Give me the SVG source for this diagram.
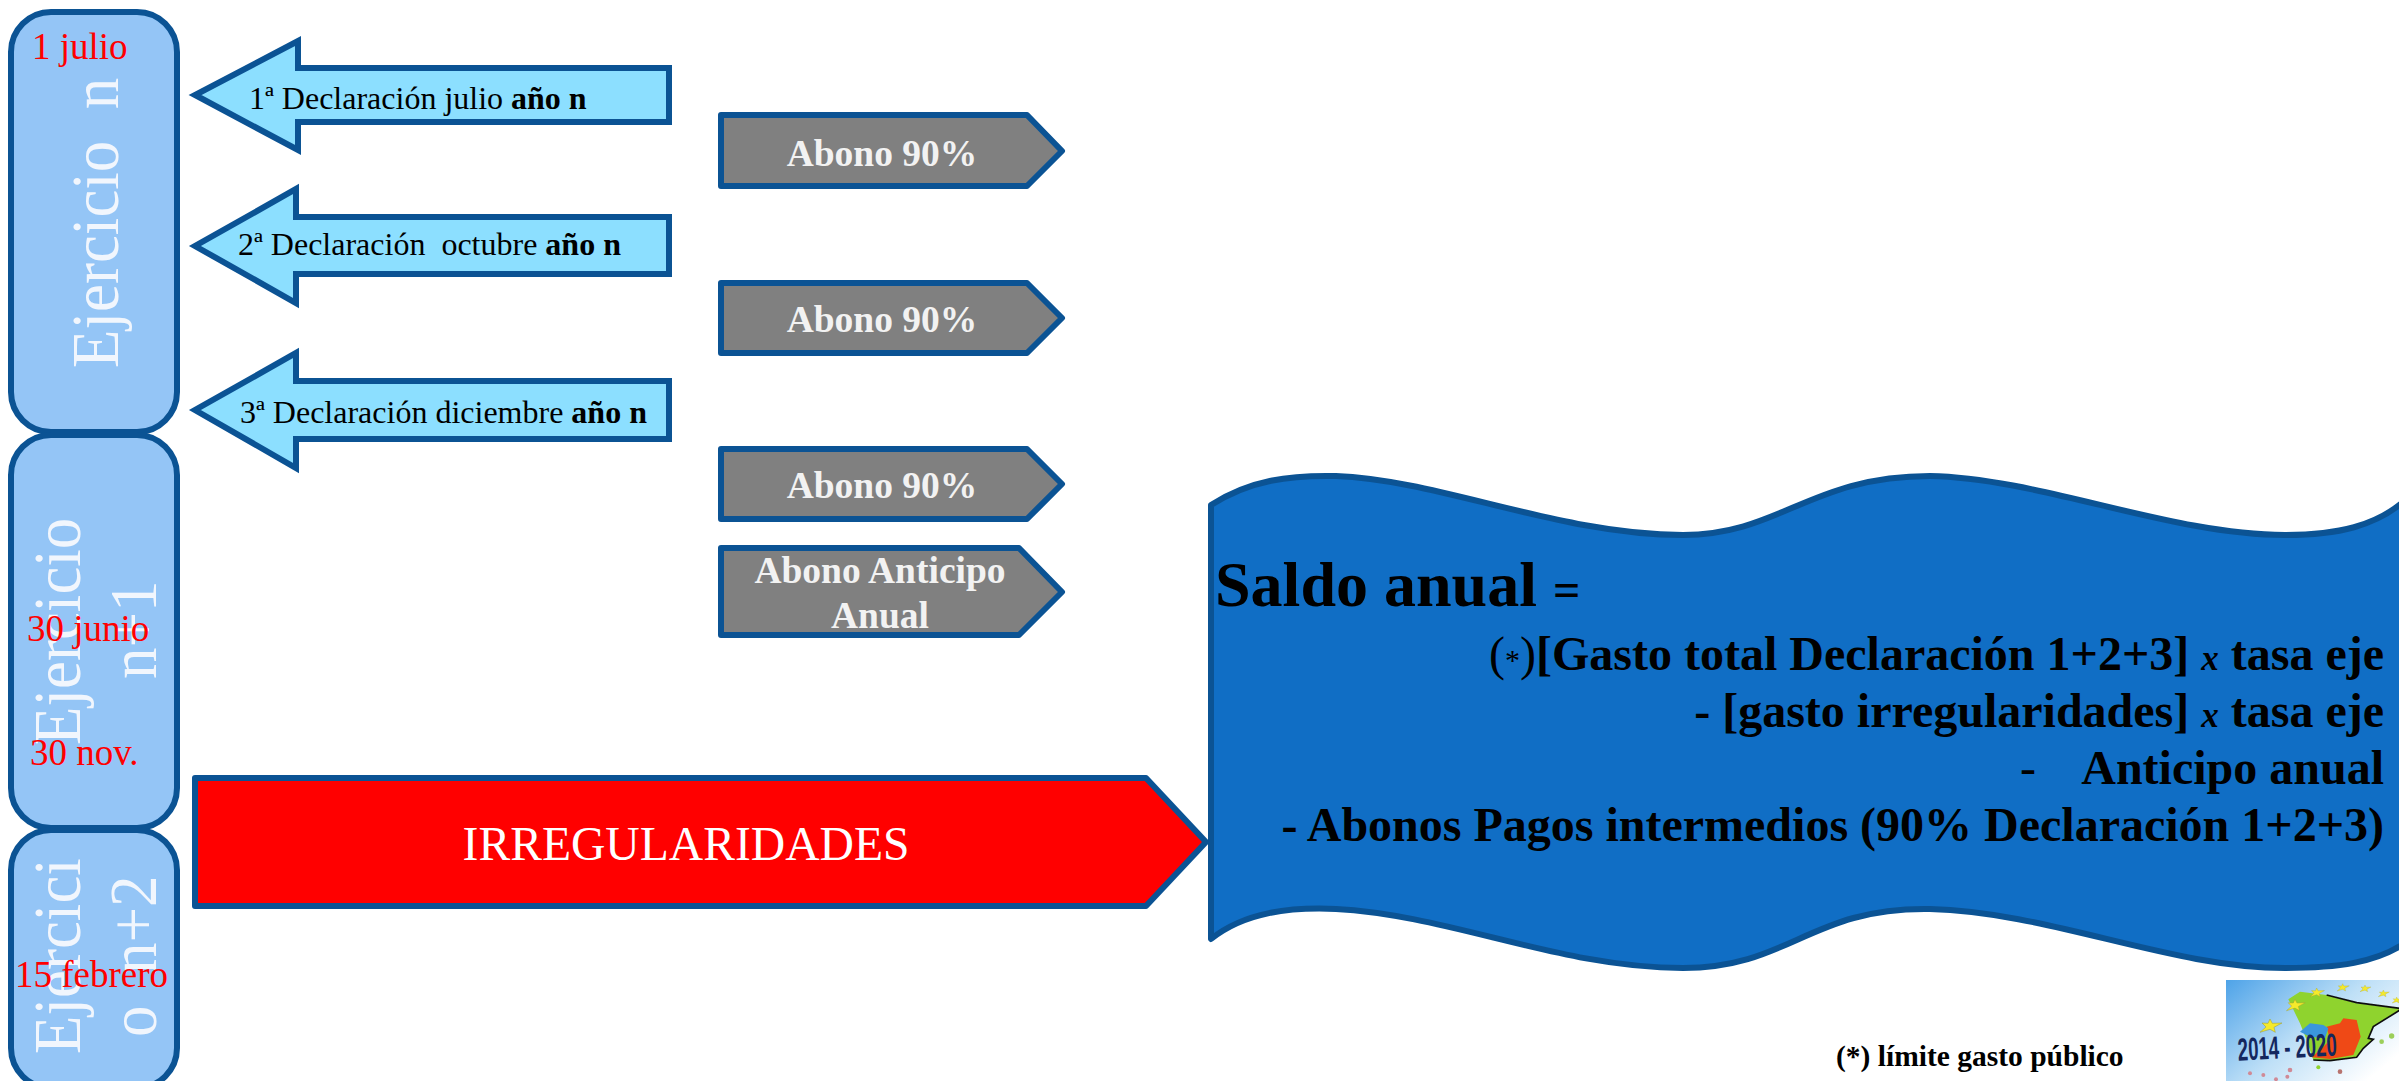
<svg xmlns="http://www.w3.org/2000/svg" width="2399" height="1081" viewBox="0 0 2399 1081">
<style>
text{font-family:"Liberation Serif","Times New Roman",serif}
.box{fill:#94c5f6;stroke:#0b5394;stroke-width:6}
.left{fill:#8cdfff;stroke:#0b5394;stroke-width:6;stroke-miterlimit:10}
.gray{fill:#808080;stroke:#0b5394;stroke-width:6;stroke-linejoin:round}
.vert{font-size:63px;fill:#f1f6fd}
.date{font-size:37px;fill:#f00}
.decl{font-size:32px;fill:#000}
.abono{font-size:37.5px;font-weight:bold;fill:#f2f2f2;text-anchor:middle}
.calc{font-size:48px;font-weight:bold;fill:#000;text-anchor:end}
.x{font-size:35px;font-style:italic}
</style>
<defs>
<linearGradient id="sky" x1="0" y1="0" x2="1" y2="0.7"><stop offset="0" stop-color="#4ea3e8"/><stop offset="0.55" stop-color="#bfe0f7"/><stop offset="1" stop-color="#fff"/></linearGradient>
<filter id="soft" x="-10%" y="-10%" width="120%" height="120%"><feGaussianBlur stdDeviation="1.5"/></filter>
<polygon id="star" points="0,-20 7,-7 36,-8 12,5 16,20 0,11 -30,20 -12,4 -24,-8 -6,-7" fill="#f5e92b" stroke="#9a9a30" stroke-width="1.5"/>
</defs>
<g id="connectors"/>
<g id="ejercicio-n">
<rect class="box" x="11" y="12" width="166" height="420" rx="40"/>
<text class="vert" transform="translate(118 368) rotate(-90) scale(1 1.07)" xml:space="preserve">Ejercicio  n</text>
<text class="date" x="32" y="59">1 julio</text>
</g>
<g id="ejercicio-n1">
<rect class="box" x="11" y="435" width="166" height="393" rx="40"/>
<text class="vert" transform="translate(79.5 745) rotate(-90) scale(1 1.07)">Ejercicio</text>
<text class="vert" transform="translate(156 679) rotate(-90) scale(1 1.07)">n+1</text>
<text class="date" x="27" y="641">30 junio</text>
<text class="date" x="30" y="765">30 nov.</text>
</g>
<g id="ejercicio-n2">
<rect class="box" x="11" y="830" width="166" height="258" rx="40"/>
<text class="vert" transform="translate(79.5 1054) rotate(-90) scale(1 1.07)">Ejercici</text>
<text class="vert" transform="translate(156 1037) rotate(-90) scale(1 1.07)" xml:space="preserve">o  n+2</text>
<text class="date" x="15" y="987">15 febrero</text>
</g>
<g id="declaracion-1">
<polygon class="left" points="669,68 298,68 298,41 195,95 298,150 298,122 669,122"/>
<text class="decl" x="249" y="109">1ª Declaración julio <tspan font-weight="bold">año n</tspan></text>
</g>
<g id="declaracion-2">
<polygon class="left" points="669,217 296,217 296,189 195,246 296,303 296,274 669,274"/>
<text class="decl" x="238" y="255" xml:space="preserve">2ª Declaración  octubre <tspan font-weight="bold">año n</tspan></text>
</g>
<g id="declaracion-3">
<polygon class="left" points="669,381 296,381 296,353 195,410 296,468 296,439 669,439"/>
<text class="decl" x="240" y="423">3ª Declaración diciembre <tspan font-weight="bold">año n</tspan></text>
</g>
<g id="abono-1">
<polygon class="gray" points="721,115 1027,115 1062,151 1027,186 721,186"/>
<text class="abono" x="882" y="166">Abono 90%</text>
</g>
<g id="abono-2">
<polygon class="gray" points="721,283 1027,283 1062,318 1027,353 721,353"/>
<text class="abono" x="882" y="332">Abono 90%</text>
</g>
<g id="abono-3">
<polygon class="gray" points="721,449 1027,449 1062,484 1027,519 721,519"/>
<text class="abono" x="882" y="498">Abono 90%</text>
</g>
<g id="abono-anticipo">
<polygon class="gray" points="721,548 1019,548 1062,592 1019,635 721,635"/>
<text class="abono" x="880" y="583">Abono Anticipo</text>
<text class="abono" x="880" y="628">Anual</text>
</g>
<g id="saldo">
<path d="M1211,505 C1250,480 1290,475 1336,476 C1440,480 1560,535 1683,535 C1780,535 1810,476 1930,476 C2040,478 2170,535 2285,535 C2340,535 2375,525 2402,503 L2402,945 C2375,962 2340,968 2285,968 C2170,968 2050,912 1930,909 C1810,907 1790,968 1683,968 C1560,968 1450,915 1336,909 C1290,907 1245,912 1211,939 Z" fill="#106ec5" stroke="#0b5394" stroke-width="6" stroke-linejoin="round"/>
<text x="1215" y="606" font-size="64" font-weight="bold">Saldo anual <tspan font-size="48">=</tspan></text>
<text class="calc" x="2384" y="670"><tspan font-weight="normal">(</tspan><tspan font-weight="normal" font-size="30">*</tspan><tspan font-weight="normal">)</tspan>[Gasto total Declaración 1+2+3] <tspan class="x">x</tspan> tasa eje</text>
<text class="calc" x="2384" y="727">- [gasto irregularidades] <tspan class="x">x</tspan> tasa eje</text>
<text class="calc" x="2384" y="784">Anticipo anual</text>
<text class="calc" x="2036" y="784" style="font-weight:normal">-</text>
<text class="calc" x="2384" y="841">- Abonos Pagos intermedios (90% Declaración 1+2+3)</text>
</g>
<g id="irregularidades">
<polygon class="gray" points="195,778 1146,778 1206,842 1146,906 195,906" style="fill:#f00"/>
<text x="686" y="860" font-size="47.6" fill="#fff" text-anchor="middle">IRREGULARIDADES</text>
</g>
<g id="nota">
<text x="1836" y="1066" font-size="29.5" font-weight="bold">(*) límite gasto público</text>
</g>
<g id="logo" transform="translate(2200 960) scale(0.3333)">
<rect x="78" y="60" width="525" height="310" fill="url(#sky)"/>
<g filter="url(#soft)">
<path d="M265,118 L300,95 L380,105 L470,130 L600,145 L600,150 L520,200 L505,235 L520,238 L490,265 L470,292 L390,302 L340,300 L320,240 L300,190 Z" fill="#8fd32e"/>
<path d="M380,200 L420,190 L430,175 L470,180 L482,230 L470,260 L460,285 L390,297 L335,292 L370,260 L390,240 Z" fill="#ef4a12"/>
<path d="M300,215 L330,190 L370,195 L385,205 L375,235 L330,230 Z" fill="#3a96dc"/>
<path d="M380,105 L470,128 L600,145 M600,150 L520,200 L505,235 L520,238 L490,265 L470,292 L390,302 L340,300" fill="none" stroke="#111" stroke-width="5"/>
<circle cx="150" cy="340" r="6" fill="#d08a96"/><circle cx="190" cy="345" r="6" fill="#d08a96"/><circle cx="270" cy="330" r="7" fill="#d08a96"/><circle cx="262" cy="350" r="6" fill="#d08a96"/><circle cx="228" cy="358" r="6" fill="#d08a96"/><circle cx="420" cy="335" r="7" fill="#b8736e"/><circle cx="355" cy="322" r="6" fill="#8fd32e"/>
<circle cx="545" cy="245" r="7" fill="#9ccf5a"/><circle cx="575" cy="228" r="8" fill="#9ccf5a"/>
</g>
<use href="#star" transform="translate(210 197)"/>
<use href="#star" transform="translate(285 135) scale(0.85)"/>
<use href="#star" transform="translate(350 97) scale(0.65)"/>
<use href="#star" transform="translate(428 82) scale(0.55)"/>
<use href="#star" transform="translate(495 85) scale(0.5)"/>
<use href="#star" transform="translate(550 100) scale(0.5)"/>
<use href="#star" transform="translate(590 120) scale(0.45)"/>
<text transform="translate(115 302) rotate(-3) scale(0.58 1)" font-size="96" font-weight="bold" fill="#14275e" style="font-family:'Liberation Sans',Arial,sans-serif">2014 - 2020</text>
</g>
</svg>
